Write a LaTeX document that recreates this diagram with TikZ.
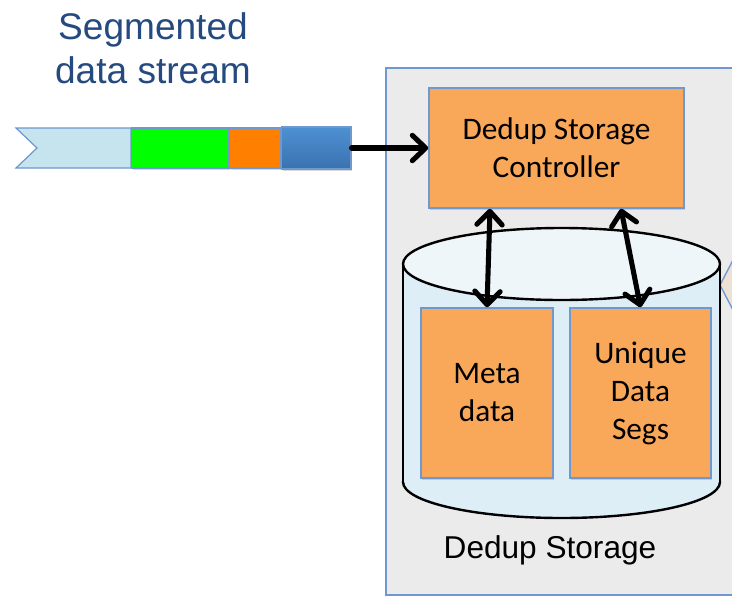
\documentclass[tikz,border=0pt]{standalone}
\usepackage{fontspec}
\setmainfont{Carlito}
\newfontfamily\arialfont{Liberation Sans}
\usetikzlibrary{arrows.meta,shadows,calc}

\definecolor{boxblue}{RGB}{110,152,206}
\definecolor{panelgray}{RGB}{235,235,235}
\definecolor{boxorange}{RGB}{249,167,89}
\definecolor{cylfill}{RGB}{222,238,246}
\definecolor{cyltop}{RGB}{238,246,250}
\definecolor{titleblue}{RGB}{36,74,128}
\definecolor{tailblue}{RGB}{198,228,238}
\definecolor{seggreen}{RGB}{0,255,0}
\definecolor{segorange}{RGB}{255,128,0}
\definecolor{segblueA}{RGB}{78,144,210}
\definecolor{segblueB}{RGB}{58,114,176}
\definecolor{peach}{RGB}{237,224,213}

\begin{document}
\begin{tikzpicture}[x=0.75pt,y=-0.75pt,
  softshadow/.style={drop shadow={opacity=0.3, shadow xshift=1pt, shadow yshift=-1.5pt}},
  orangebox/.style={draw=boxblue, line width=1.2pt, fill=boxorange, align=center,
    inner sep=0pt, font=\fontsize{23.5}{28.5}\selectfont, softshadow},
  seg/.style={draw=boxblue, line width=0.9pt, minimum height=30pt, inner sep=0pt,
    anchor=west, softshadow},
  barb/.tip={Straight Barb[length=10pt,width=19pt,round]},
  link/.style={line width=3.8pt, line cap=round, -barb},
  dlink/.style={line width=3.8pt, line cap=round, barb-barb}
]
\clip (0,0) rectangle (732,597);
\fill[white] (0,0) rectangle (732,597);

% storage panel
\draw[boxblue, line width=1pt, fill=panelgray] (386,68) rectangle (760,595);

% neighbouring shape at the right edge
\draw[boxblue, line width=1pt, fill=peach]
  (720,285) -- (733,260) -- (770,260) -- (770,310) -- (733,310) -- cycle;

% title
\node[font=\arialfont\fontsize{27.8}{33}\selectfont, text=titleblue, align=center]
  (title) at (153,48) {Segmented\\data stream};

% segmented stream
\draw[boxblue, line width=0.9pt, fill=tailblue]
  (16,128) -- (131,128) -- (131,168) -- (16,168) -- (37,148) -- cycle;
\coordinate (tailend) at (131,148);
\node[seg, fill=seggreen, minimum width=72.75pt] (sgreen) at (tailend) {};
\node[seg, fill=segorange, minimum width=38pt] (sorange) at (sgreen.east) {};
\node[seg, top color=segblueA, bottom color=segblueB, minimum width=52pt,
  minimum height=31.5pt] (sblue) at (sorange.east) {};

% storage cylinder
\filldraw[line width=1.8pt, fill=cylfill] (561.5,482) ellipse [x radius=158.5, y radius=36];
\fill[cylfill] (403,264) rectangle (720,482);
\draw[line width=1.8pt] (403,264) -- (403,482) (720,264) -- (720,482);
\filldraw[line width=1.8pt, fill=cyltop] (561.5,264) ellipse [x radius=158.5, y radius=36];

% components
\node[orangebox, minimum width=191.25pt, minimum height=90pt] (ctrl) at (556.5,148)
  {Dedup Storage\\Controller};
\node[orangebox, minimum width=99pt, minimum height=127.5pt] (meta) at (487,393)
  {Meta\\data};
\node[orangebox, minimum width=105.75pt, minimum height=127.5pt] (uniq) at (640.5,393)
  {Unique\\Data\\Segs};

\node[font=\arialfont\fontsize{23.7}{28}\selectfont, anchor=base] (label) at (550,558)
  {Dedup Storage};

% data flow
\draw[link] (sblue.east) -- (ctrl.west);
\draw[dlink] ($(ctrl.south)+(-66.5,0)$) -- (meta.north);
\draw[dlink] ($(ctrl.south)+(64.5,0)$) -- (uniq.north);
\end{tikzpicture}
\end{document}
